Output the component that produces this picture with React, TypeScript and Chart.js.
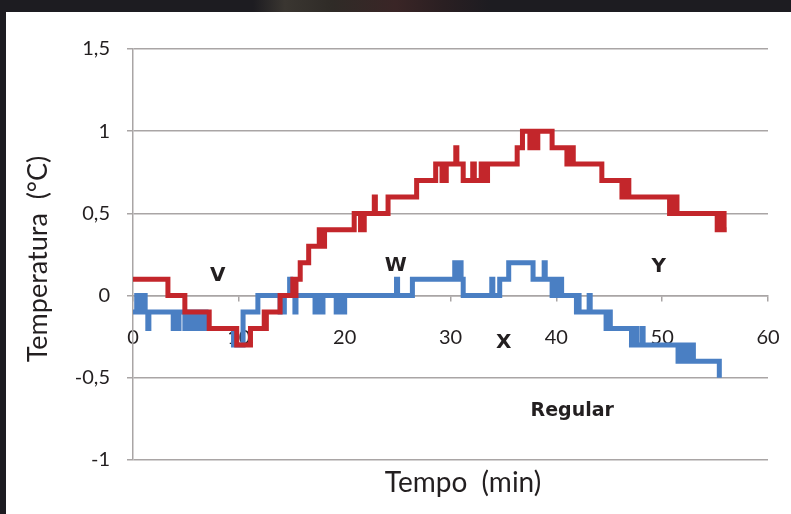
import React, { useEffect, useRef } from "react";
import { Chart, registerables } from "chart.js";

Chart.register(...registerables);

// ---- data (time in minutes, temperature in °C) ----
const redTime = [
  0, 3.3, 4.9, 7.2, 9.8, 11.1, 12.4, 12.5, 12.6, 13.9, 15.1, 15.3, 15.4, 15.8, 16.6,
  17.6, 17.7, 17.8, 17.95, 18.1, 20.9, 21.5, 21.6, 21.75, 21.85, 22.8, 22.9, 24.1,
  26.8, 28.6, 29.2, 29.35, 29.45, 29.6, 30.5, 30.6, 31.2, 32.1, 32.25, 32.9, 33.05,
  33.5, 36.3, 36.8, 37.5, 37.65, 38.1, 38.25, 39.6, 41.0, 41.15, 41.3, 41.45, 41.6,
  44.3, 46.2, 46.35, 46.5, 46.7, 46.85, 50.7, 50.85, 51.0, 51.25, 51.4, 55.2, 55.35,
  55.5, 55.7, 55.85, 56.1,
];
const redTemp = [
  0.1, 0, -0.1, -0.2, -0.3, -0.2, -0.1, -0.2, -0.1, 0, 0.1, 0, 0.1, 0.2, 0.3,
  0.4, 0.3, 0.4, 0.3, 0.4, 0.5, 0.4, 0.5, 0.4, 0.5, 0.6, 0.5, 0.6,
  0.7, 0.8, 0.7, 0.8, 0.7, 0.8, 0.9, 0.8, 0.7, 0.8, 0.7, 0.8, 0.7,
  0.8, 0.9, 1.0, 0.9, 1.0, 0.9, 1.0, 0.9, 0.8, 0.9, 0.8, 0.9, 0.8,
  0.7, 0.6, 0.7, 0.6, 0.7, 0.6, 0.5, 0.6, 0.5, 0.6, 0.5, 0.4, 0.5,
  0.4, 0.5, 0.4, 0.4,
];

const blueTime = [
  0, 0.35, 0.5, 0.75, 0.9, 1.0, 1.15, 1.4, 1.5, 3.8, 3.9, 4.2, 4.35, 4.9, 5.1, 5.3,
  5.5, 5.7, 5.9, 6.1, 6.3, 6.5, 6.7, 6.9, 9.5, 10.4, 11.8, 13.9, 14.0, 14.2, 14.3,
  14.8, 14.9, 15.3, 15.4, 17.2, 17.35, 17.5, 17.65, 17.8, 17.95, 19.2, 19.35, 19.55,
  19.7, 19.85, 20.0, 24.9, 25.0, 26.4, 30.4, 30.5, 30.6, 30.75, 30.85, 31.0, 31.2,
  33.9, 34.0, 34.65, 35.5, 37.8, 38.85, 38.95, 39.6, 39.7, 39.9, 40.0, 40.2, 40.3,
  40.5, 41.9, 42.0, 42.15, 43.1, 43.2, 44.7, 44.8, 44.9, 45.0, 45.1, 47.1, 47.2,
  47.35, 47.5, 47.6, 48.1, 48.2, 51.5, 51.6, 51.75, 51.9, 52.05, 52.2, 52.35, 52.5,
  52.65, 52.8, 52.95, 55.4,
];
const blueTemp = [
  -0.1, 0, -0.1, 0, -0.1, 0, -0.1, -0.2, -0.1, -0.2, -0.1, -0.2, -0.1, -0.2, -0.1, -0.2,
  -0.1, -0.2, -0.1, -0.2, -0.1, -0.2, -0.1, -0.2, -0.3, -0.1, 0, -0.1, 0, -0.1, 0,
  0.1, 0, -0.1, 0, -0.1, 0, -0.1, 0, -0.1, 0, -0.1, 0, -0.1,
  0, -0.1, 0, 0.1, 0, 0.1, 0.2, 0.1, 0.2, 0.1, 0.2, 0.1, 0,
  0.1, 0, 0.1, 0.2, 0.1, 0.2, 0.1, 0, 0.1, 0, 0.1, 0, 0.1,
  0, -0.1, 0, -0.1, 0, -0.1, -0.2, -0.1, -0.2, -0.1, -0.2, -0.3, -0.2,
  -0.3, -0.2, -0.3, -0.2, -0.3, -0.4, -0.3, -0.4, -0.3, -0.4, -0.3, -0.4, -0.3,
  -0.4, -0.3, -0.4, -0.5,
];

const xTickStep = 10;
const yTickStep = 0.5;

const annotationLabels = ["V", "W", "X", "Y", "Regular"];
const annotationTime = [8.0, 24.83, 35.03, 49.67, 41.5];
const annotationTemp = [0.12, 0.18, -0.285, 0.175, -0.7];

const xTitle = "Tempo  (min)";
const yTitle = "Temperatura  (°C)";

const RED = "#c3262b";
const BLUE = "#4a7fc3";
const GRID = "#a9a5a5";
const TEXT = "#231f20";

const textPlugin = {
  id: "textPlugin",
  afterDraw(chart: any) {
    const ctx = chart.ctx;
    const xs = chart.scales.x;
    const ys = chart.scales.y;
    ctx.save();
    ctx.fillStyle = TEXT;
    ctx.textAlign = "center";
    ctx.textBaseline = "middle";
    annotationLabels.forEach((lab, i) => {
      ctx.font = lab.length > 1 ? "bold 19px 'DejaVu Sans'" : "bold 20px 'DejaVu Sans'";
      ctx.fillText(lab, xs.getPixelForValue(annotationTime[i]), ys.getPixelForValue(annotationTemp[i]));
    });
    ctx.font = "28px Lato";
    ctx.textBaseline = "alphabetic";
    ctx.fillText(xTitle, 463, 491.5);
    ctx.translate(47, 259);
    ctx.rotate(-Math.PI / 2);
    ctx.font = "27px Lato";
    ctx.fillText(yTitle, 0, 0);
    ctx.restore();
  },
};

function ChartView() {
  const ref = useRef<HTMLCanvasElement | null>(null);
  useEffect(() => {
    if (!ref.current) return;
    const chart = new Chart(ref.current, {
      type: "line",
      data: {
        datasets: [
          {
            data: redTime.map((t, i) => ({ x: t, y: redTemp[i] })),
            borderColor: RED,
            backgroundColor: RED,
            borderWidth: 5,
            stepped: true,
            pointRadius: 0,
            order: 0,
          },
          {
            data: blueTime.map((t, i) => ({ x: t, y: blueTemp[i] })),
            borderColor: BLUE,
            backgroundColor: BLUE,
            borderWidth: 5,
            stepped: true,
            pointRadius: 0,
            order: 1,
          },
        ],
      },
      options: {
        animation: false,
        responsive: false,
        maintainAspectRatio: false,
        devicePixelRatio: 1,
        layout: { padding: { left: 0, right: 23, top: 49, bottom: 54 } },
        plugins: { legend: { display: false }, tooltip: { enabled: false } },
        scales: {
          x: {
            type: "linear",
            min: 0,
            max: 60,
            position: { y: 0 } as any,
            grid: { drawOnChartArea: false, drawTicks: true, tickLength: 5, color: GRID, lineWidth: 1.5 },
            border: { color: GRID, width: 1.5 },
            ticks: {
              stepSize: xTickStep,
              autoSkip: false,
              maxRotation: 0,
              padding: 25,
              color: TEXT,
              font: { family: "Lato", size: 20 },
            },
            afterFit: (s: any) => {
              s.paddingLeft = 0;
              s.paddingRight = 0;
            },
          },
          y: {
            type: "linear",
            min: -1,
            max: 1.5,
            grid: { color: GRID, lineWidth: 1.5, tickLength: 6 },
            border: { color: GRID, width: 1.5 },
            ticks: {
              stepSize: yTickStep,
              autoSkip: false,
              padding: 17,
              color: TEXT,
              font: { family: "Lato", size: 20 },
              callback: (v: any) => String(Math.round(Number(v) * 10) / 10).replace(".", ","),
            },
            afterFit: (s: any) => {
              s.width = 133;
            },
          },
        },
      },
      plugins: [textPlugin],
    });
    return () => chart.destroy();
  }, []);
  return (
    <canvas
      ref={ref}
      width={791}
      height={514}
      style={{ position: "absolute", left: 0, top: 0, width: 791, height: 514 }}
    />
  );
}

export default function App() {
  return (
    <div
      style={{
        position: "fixed",
        left: 0,
        top: 0,
        width: 791,
        height: 514,
        background: "#1d1c21",
        overflow: "hidden",
      }}
    >
      <div
        style={{
          position: "absolute",
          left: 0,
          top: 0,
          width: 791,
          height: 12,
          background:
            "linear-gradient(to right, #1d1c21 0%, #1d1c21 32%, #3a3631 36%, #2f2b27 42%, #3a2526 50%, #2a1f22 56%, #1d1c21 62%, #1d1c21 100%)",
        }}
      />
      <div style={{ position: "absolute", left: 6, top: 12, width: 785, height: 502, background: "#ffffff" }} />
      <ChartView />
    </div>
  );
}
